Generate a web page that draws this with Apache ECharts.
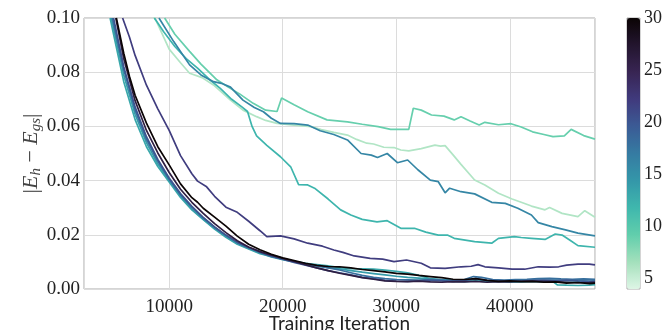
<!DOCTYPE html>
<html>
<head>
<meta charset="utf-8">
<script src="https://cdn.jsdelivr.net/npm/echarts@6/dist/echarts.min.js"></script>
<style>
  html, body { margin: 0; padding: 0; background: #fff; }
  #chart { width: 665px; height: 330px; }
</style>
</head>
<body>
<div id="chart"></div>
<script>
// colour value of each run (shown on the colour bar) and its error curve [iteration, |E_h - E_gs|]
const runValues = [6, 9, 12, 13, 14, 16, 18, 20, 22, 26, 30];

const run6 = [[8400,0.102],[8900,0.0986],[10000,0.0885],[11000,0.0835],[11800,0.0796],[12900,0.078],[13900,0.0753],[15400,0.0697],[16500,0.066],[17700,0.0636],[18500,0.0622],[19500,0.0611],[21000,0.0605],[22500,0.0599],[23400,0.0588],[24500,0.0578],[25700,0.0568],[26500,0.0552],[27400,0.0538],[28000,0.0535],[28900,0.0523],[29800,0.0522],[30400,0.0513],[31100,0.051],[32200,0.0518],[33400,0.0531],[33900,0.0527],[34300,0.0529],[35000,0.0495],[35700,0.046],[36900,0.0402],[37800,0.0384],[39000,0.0353],[40200,0.0332],[41000,0.032],[41900,0.0306],[43100,0.0292],[43500,0.0301],[44600,0.0279],[46000,0.0267],[46600,0.0289],[47500,0.0265]];

const run9 = [[9600,0.1],[10500,0.094],[11800,0.0877],[12800,0.083],[14200,0.0772],[15200,0.0745],[16200,0.072],[17400,0.0685],[18500,0.066],[19500,0.0655],[19900,0.0705],[21000,0.068],[22200,0.0654],[23900,0.0624],[25700,0.0617],[27000,0.0608],[28400,0.0599],[29500,0.0589],[31100,0.0589],[31500,0.0667],[32200,0.066],[33100,0.0642],[34200,0.0638],[35100,0.0624],[35700,0.0636],[36500,0.062],[37300,0.0605],[37800,0.0615],[39000,0.0606],[40100,0.061],[41000,0.0598],[42000,0.058],[43000,0.057],[43800,0.0562],[44800,0.0565],[45400,0.0589],[46500,0.0566],[47500,0.0553]];

const run12 = [[8700,0.1],[9500,0.095],[10500,0.0895],[11500,0.085],[12500,0.0815],[13500,0.0775],[14500,0.074],[15500,0.07],[16400,0.0672],[16900,0.0655],[17300,0.06],[17700,0.0565],[18600,0.053],[19800,0.0488],[20700,0.0451],[21400,0.0385],[22200,0.0384],[22800,0.0372],[24000,0.0332],[25100,0.0292],[26000,0.0273],[27000,0.0257],[28300,0.0248],[29200,0.0252],[30400,0.0224],[31600,0.0224],[32600,0.021],[33700,0.0199],[34500,0.0199],[35100,0.0187],[36900,0.0175],[38400,0.0169],[39000,0.0187],[40400,0.0193],[41000,0.019],[41900,0.0187],[43100,0.0183],[44000,0.0203],[44600,0.0199],[45300,0.018],[46000,0.016],[47500,0.0154]];

const run13 = [[4800,0.1],[5000,0.096],[6000,0.0765],[7000,0.0625],[8000,0.0525],[9000,0.0452],[10000,0.0395],[11000,0.0338],[12000,0.0292],[13000,0.0256],[14000,0.0221],[15000,0.0191],[16000,0.0165],[17000,0.0148],[18000,0.013],[19000,0.012],[20000,0.011],[21000,0.0102],[22000,0.0095],[23000,0.009],[24000,0.0085],[25000,0.0079],[26000,0.0075],[27000,0.0074],[28000,0.0073],[29000,0.007],[30000,0.0065],[31000,0.006],[32000,0.005],[33000,0.0038],[34000,0.0032],[35000,0.0028],[36000,0.0027],[37000,0.003],[38000,0.0027],[39000,0.0028],[40000,0.0025],[41000,0.0026],[42000,0.0028],[43000,0.0026],[43800,0.0027],[44200,0.0015],[45000,0.0014],[46000,0.0013],[47000,0.0014],[47500,0.0016]];

const run14 = [[4900,0.1],[6000,0.079],[7000,0.0645],[8000,0.054],[9000,0.0462],[10000,0.04],[11000,0.0343],[12000,0.0295],[13000,0.0258],[14000,0.0224],[15000,0.0194],[16000,0.0168],[17000,0.015],[18000,0.0133],[19000,0.0118],[20000,0.0108],[21000,0.01],[22000,0.0092],[23000,0.0085],[24000,0.0079],[25000,0.0074],[26000,0.0068],[27000,0.0062],[28000,0.0057],[29000,0.0052],[30000,0.0047],[31000,0.0043],[32000,0.004],[33000,0.0037],[34000,0.0035],[35000,0.0033],[36000,0.0032],[37000,0.0035],[38000,0.0031],[39000,0.0029],[40000,0.003],[41000,0.0031],[42000,0.0033],[43000,0.0032],[44000,0.0033],[45000,0.0031],[46000,0.003],[47000,0.0029],[47500,0.003]];

const run16 = [[9100,0.1],[10400,0.0913],[11800,0.0827],[12800,0.079],[13900,0.0765],[14600,0.0759],[15400,0.0745],[16500,0.0697],[17500,0.067],[18300,0.0654],[19000,0.063],[19800,0.0611],[21000,0.061],[22200,0.0605],[23300,0.0584],[24500,0.057],[25700,0.055],[26900,0.05],[27800,0.0494],[28350,0.0485],[29200,0.05],[30100,0.0466],[31000,0.0476],[31900,0.044],[33000,0.0402],[33700,0.0396],[34300,0.0355],[34700,0.0372],[35700,0.0359],[36900,0.0351],[38400,0.032],[39600,0.0316],[40700,0.0298],[41900,0.0273],[42500,0.0245],[43700,0.023],[44900,0.0218],[46000,0.0206],[47500,0.0196]];

const run18 = [[5000,0.1],[6000,0.081],[7000,0.066],[8000,0.0552],[9000,0.0472],[10000,0.0405],[11000,0.0348],[12000,0.0302],[13000,0.0262],[14000,0.0228],[15000,0.0198],[16000,0.0172],[17000,0.0152],[18000,0.0135],[19000,0.012],[20000,0.0111],[21000,0.0102],[22000,0.0094],[23000,0.0086],[24000,0.0078],[25000,0.007],[26000,0.006],[27000,0.005],[28000,0.0043],[29000,0.0038],[30000,0.0035],[31000,0.0034],[32000,0.0033],[33000,0.0035],[34000,0.0033],[35000,0.003],[36000,0.0035],[36800,0.0046],[37500,0.0043],[38500,0.0035],[39500,0.0033],[40500,0.0035],[41500,0.0036],[42500,0.0038],[43500,0.0039],[44500,0.0037],[45500,0.0036],[46500,0.0037],[47500,0.0036]];

const run20 = [[5100,0.1],[6000,0.082],[7000,0.0672],[8000,0.0562],[9000,0.0478],[10000,0.041],[11000,0.0352],[12000,0.0305],[13000,0.0264],[14000,0.0229],[15000,0.0199],[16000,0.0172],[17000,0.0153],[18000,0.0137],[19000,0.0122],[20000,0.011],[21000,0.0098],[22000,0.0088],[23000,0.0078],[24000,0.0068],[25000,0.006],[26000,0.0052],[27000,0.0043],[28000,0.0038],[29000,0.0032],[30000,0.0029],[31000,0.0028],[32000,0.003],[33000,0.0032],[34000,0.003],[35000,0.0028],[36000,0.0032],[37000,0.0038],[38000,0.0032],[39000,0.003],[40000,0.003],[41000,0.0029],[42000,0.0032],[43000,0.0033],[44000,0.0031],[45000,0.0033],[46000,0.003],[47000,0.0028],[47500,0.0029]];

const run22 = [[5900,0.1],[6500,0.093],[7000,0.0862],[8000,0.0752],[9000,0.0665],[10000,0.0585],[11000,0.0492],[12000,0.0425],[12500,0.0398],[13300,0.0377],[14000,0.0342],[15000,0.0302],[16000,0.0283],[17000,0.025],[18000,0.0215],[18600,0.0193],[19800,0.0196],[21000,0.0185],[22200,0.0169],[23500,0.0158],[24500,0.0144],[25300,0.0135],[26300,0.0122],[27700,0.0113],[28800,0.011],[29800,0.0101],[30900,0.0107],[32200,0.0095],[33000,0.0078],[34300,0.0076],[35700,0.0082],[36600,0.0084],[37200,0.009],[37800,0.0082],[39000,0.0078],[40200,0.0073],[41300,0.0073],[42500,0.0082],[43500,0.0081],[44300,0.0082],[45000,0.0088],[46000,0.0092],[47000,0.0092],[47500,0.0089]];

const run26 = [[5300,0.1],[6000,0.085],[7000,0.0695],[8000,0.0585],[9000,0.0502],[10000,0.043],[11000,0.0368],[12000,0.032],[13000,0.0279],[14000,0.0241],[15000,0.0208],[16000,0.0178],[17000,0.0155],[18000,0.0138],[19000,0.0125],[20000,0.0113],[21000,0.0102],[22000,0.009],[23000,0.0078],[24000,0.0068],[25000,0.0058],[26000,0.005],[27000,0.0042],[28000,0.0036],[29000,0.003],[30000,0.0028],[31000,0.0027],[32000,0.0029],[33000,0.0026],[34000,0.0025],[35000,0.0027],[36000,0.0026],[37000,0.0028],[38000,0.0025],[39000,0.0027],[40000,0.0026],[41000,0.0028],[42000,0.0029],[43000,0.0028],[44000,0.0027],[45000,0.0025],[46000,0.0023],[47000,0.0024],[47500,0.0025]];

const run30 = [[5350,0.1],[6000,0.087],[6500,0.0785],[7000,0.0715],[8000,0.0612],[9000,0.0525],[10000,0.0458],[11000,0.0388],[12000,0.0337],[12500,0.032],[13000,0.0298],[14000,0.0265],[15000,0.0232],[16000,0.0195],[17000,0.0165],[18000,0.0145],[19000,0.0128],[20000,0.0115],[21000,0.0105],[22000,0.0095],[23000,0.0087],[24000,0.0083],[25000,0.0082],[26000,0.0078],[27000,0.0072],[28000,0.0068],[29000,0.0063],[30000,0.0058],[31000,0.0055],[32000,0.005],[33000,0.0046],[34000,0.0042],[35000,0.0036],[36000,0.0035],[37000,0.0038],[38000,0.0032],[39000,0.0028],[40000,0.003],[41000,0.0027],[42000,0.0028],[43000,0.0025],[44000,0.0026],[45000,0.0022],[46000,0.0024],[47000,0.002],[47500,0.0022]];

const runCurves = [run6, run9, run12, run13, run14, run16, run18, run20, run22, run26, run30];

const xTicks = [10000, 20000, 30000, 40000];
const barTicks = [5, 10, 15, 20, 25, 30];
const barMin = 4, barMax = 30;

// mako_r, low value -> high value
const mako = ['#def5e5','#a3e0bc','#61ceac','#3fb7ad','#3497a9','#357ba2','#3b5b95','#403a7d','#382553','#23152e','#0b0405'];

const serif = 'Liberation Serif';
const chart = echarts.init(document.getElementById('chart'));

const series = runCurves.map((d, i) => ({
  type: 'line',
  data: d,
  symbol: 'none',
  clip: true,
  lineStyle: { width: 1.7, color: echarts.color.lerp((runValues[i] - barMin) / (barMax - barMin), mako) },
  z: 2 + i
}));
// empty series on the colour bar axes, only so the visualMap has a target
series.push({ type: 'scatter', xAxisIndex: 1, yAxisIndex: 1, data: [] });

chart.setOption({
  backgroundColor: '#fff',
  animation: false,
  grid: [
    { left: 84, right: 70, top: 18, bottom: 41, outerBoundsMode: 'none', show: true, borderColor: '#aaa', borderWidth: 1, backgroundColor: 'transparent' },
    { left: 627, width: 13, top: 18, bottom: 41, outerBoundsMode: 'none', show: true, borderColor: '#aaa', borderWidth: 1 }
  ],
  xAxis: [
    {
      type: 'value', min: 2500, max: 47500,
      name: 'Training Iteration', nameLocation: 'middle', nameGap: 25, nameMoveOverlap: false,
      nameTextStyle: { fontFamily: 'Lato', fontSize: 19, color: '#222', verticalAlign: 'top' },
      axisLine: { show: false }, axisTick: { show: false },
      axisLabel: { customValues: xTicks, formatter: v => String(v), fontFamily: serif, fontSize: 19, color: '#222', margin: 9 },
      splitLine: { lineStyle: { color: '#dcdcdc', width: 1 } }
    },
    { type: 'value', gridIndex: 1, show: false, min: 0, max: 1 }
  ],
  yAxis: [
    {
      type: 'value', min: 0, max: 0.1, interval: 0.02,
      name: '{b||}{i|E}{s|h}{m| − }{i|E}{s|gs}{b||}', nameLocation: 'middle', nameGap: 40, nameRotate: 90, nameMoveOverlap: false,
      nameTextStyle: {
        color: '#444',
        rich: {
          b: { fontFamily: serif, fontSize: 22, color: '#444' },
          m: { fontFamily: serif, fontSize: 22, color: '#444' },
          i: { fontFamily: serif, fontStyle: 'italic', fontSize: 22, color: '#444' },
          s: { fontFamily: serif, fontStyle: 'italic', fontSize: 15, color: '#444', padding: [10, 0, 0, 0] }
        }
      },
      axisLine: { show: false }, axisTick: { show: false },
      axisLabel: { formatter: v => v.toFixed(2), fontFamily: serif, fontSize: 19, color: '#222', margin: 4 },
      splitLine: { lineStyle: { color: '#dcdcdc', width: 1 } }
    },
    {
      type: 'value', gridIndex: 1, min: barMin, max: barMax, position: 'right',
      axisLine: { show: false },
      axisTick: { show: true, customValues: barTicks, length: 3, lineStyle: { color: '#888' } },
      axisLabel: { customValues: barTicks, fontFamily: serif, fontSize: 18, color: '#222', margin: 4 },
      splitLine: { show: false }
    }
  ],
  visualMap: {
    type: 'continuous', min: barMin, max: barMax, seriesIndex: runCurves.length,
    calculable: false, showLabel: false, text: null,
    left: 627, top: 18, itemWidth: 13, itemHeight: 271, padding: 0,
    inRange: { color: mako }
  },
  series: series
});
</script>
</body>
</html>
